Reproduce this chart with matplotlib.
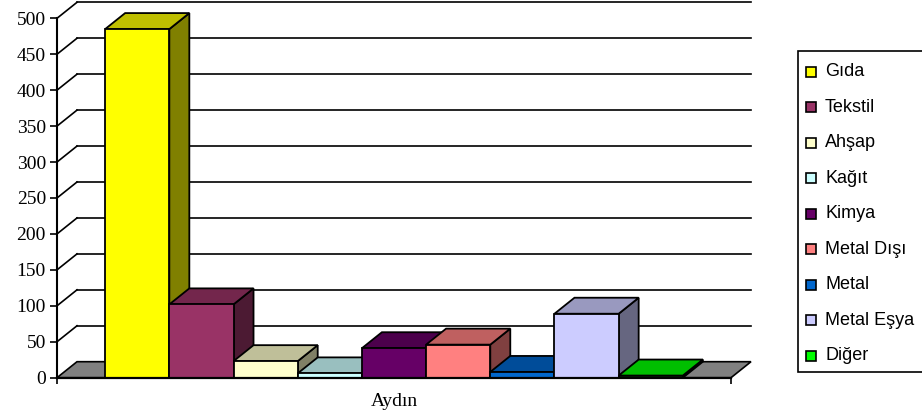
import matplotlib
matplotlib.use("Agg")
import matplotlib.pyplot as plt
from matplotlib.patches import Polygon, Rectangle

# data ------------------------------------------------
categories = ["Gıda", "Tekstil", "Ahşap", "Kağıt", "Kimya",
              "Metal Dışı", "Metal", "Metal Eşya", "Diğer"]
values = [485, 102, 23, 6, 41, 46, 8, 89, 3]
front_colors = ["#FFFF00", "#993366", "#FFFFCC", "#CCFFFF", "#660066",
                "#FF8080", "#0066CC", "#CCCCFF", "#00FF00"]
group_label = "Aydın"
yticks = list(range(0, 501, 50))


# shade a hex colour like Excel's 3D faces
def shade(hexcol, f):
    r, g, b = (int(hexcol[i:i + 2], 16) for i in (1, 3, 5))
    return "#%02X%02X%02X" % (round(r * f), round(g * f), round(b * f))


W, H = 922, 416
fig = plt.figure(figsize=(W / 100, H / 100), dpi=100)

# axes placed so that the front plane matches the picture
x0, x1 = -0.75, len(values) + 0.75
ax = fig.add_axes([57 / W, (H - 377.7) / H, 674 / W, 359.4 / H])
ax.set_xlim(x0, x1)
ax.set_ylim(0, 500)
ax.patch.set_visible(False)

# depth offset in data units (about 20 px right, 16 px up)
px_x = 674 / (x1 - x0)
px_y = 359.4 / 500
DX = 20 / px_x
DY = 16 / px_y

# walls: back gridlines and left wall diagonals
for v in yticks[1:]:
    ax.plot([x0 + DX, x1 + DX], [v + DY, v + DY], color="black", lw=1.2,
            clip_on=False, zorder=1)
    ax.plot([x0, x0 + DX], [v, v + DY], color="black", lw=1.2,
            clip_on=False, zorder=1)

# floor
ax.add_patch(Polygon([(x0, 0), (x0 + DX, DY), (x1 + DX, DY), (x1, 0)],
                     closed=True, facecolor="#808080", edgecolor="black",
                     lw=1.2, clip_on=False, zorder=2))

# bars, left to right so each hides the side of the previous one
for i, (v, c) in enumerate(zip(values, front_colors)):
    z = 3 + i * 0.01
    side = [(i + 1, 0), (i + 1 + DX, DY), (i + 1 + DX, v + DY), (i + 1, v)]
    top = [(i, v), (i + 1, v), (i + 1 + DX, v + DY), (i + DX, v + DY)]
    front = [(i, 0), (i + 1, 0), (i + 1, v), (i, v)]
    for pts, col in ((side, shade(c, 0.5)), (top, shade(c, 0.75)), (front, c)):
        ax.add_patch(Polygon(pts, closed=True, facecolor=col,
                             edgecolor="black", lw=1.3, clip_on=False,
                             zorder=z))

# axes lines and ticks
for s in ("top", "right"):
    ax.spines[s].set_visible(False)
ax.spines["left"].set_linewidth(1.5)
ax.spines["bottom"].set_linewidth(1.6)
ax.spines["left"].set_zorder(6)
ax.spines["bottom"].set_zorder(6)

ax.set_yticks(yticks)
ax.set_yticklabels([str(t) for t in yticks], family="Liberation Serif",
                   fontsize=14)
ax.tick_params(axis="y", direction="out", length=5, width=1.2, pad=3)

ax.set_xticks([(x0 + x1) / 2])
ax.set_xticklabels([group_label], family="Liberation Serif", fontsize=14)
ax.set_xticks([x0, x1], minor=True)
ax.tick_params(axis="x", which="major", length=0, pad=11)
ax.tick_params(axis="x", which="minor", direction="out", length=4.5,
               width=1.2)

# legend box, drawn by hand to match the layout
fig.patches.append(Rectangle((798 / W, (H - 372) / H), 140 / W, 321 / H,
                             transform=fig.transFigure, facecolor="white",
                             edgecolor="black", lw=1.2))
for k, (name, c) in enumerate(zip(categories, front_colors)):
    yc = 71.7 + 35.5 * k
    fig.patches.append(Rectangle((806 / W, (H - yc - 5) / H), 10 / W, 10 / H,
                                 transform=fig.transFigure, facecolor=c,
                                 edgecolor="black", lw=1.2))
    fig.text(825 / W, (H - yc) / H, name, family="Liberation Sans",
             fontsize=13, va="center", ha="left")

fig.savefig("out.png", dpi=100)
